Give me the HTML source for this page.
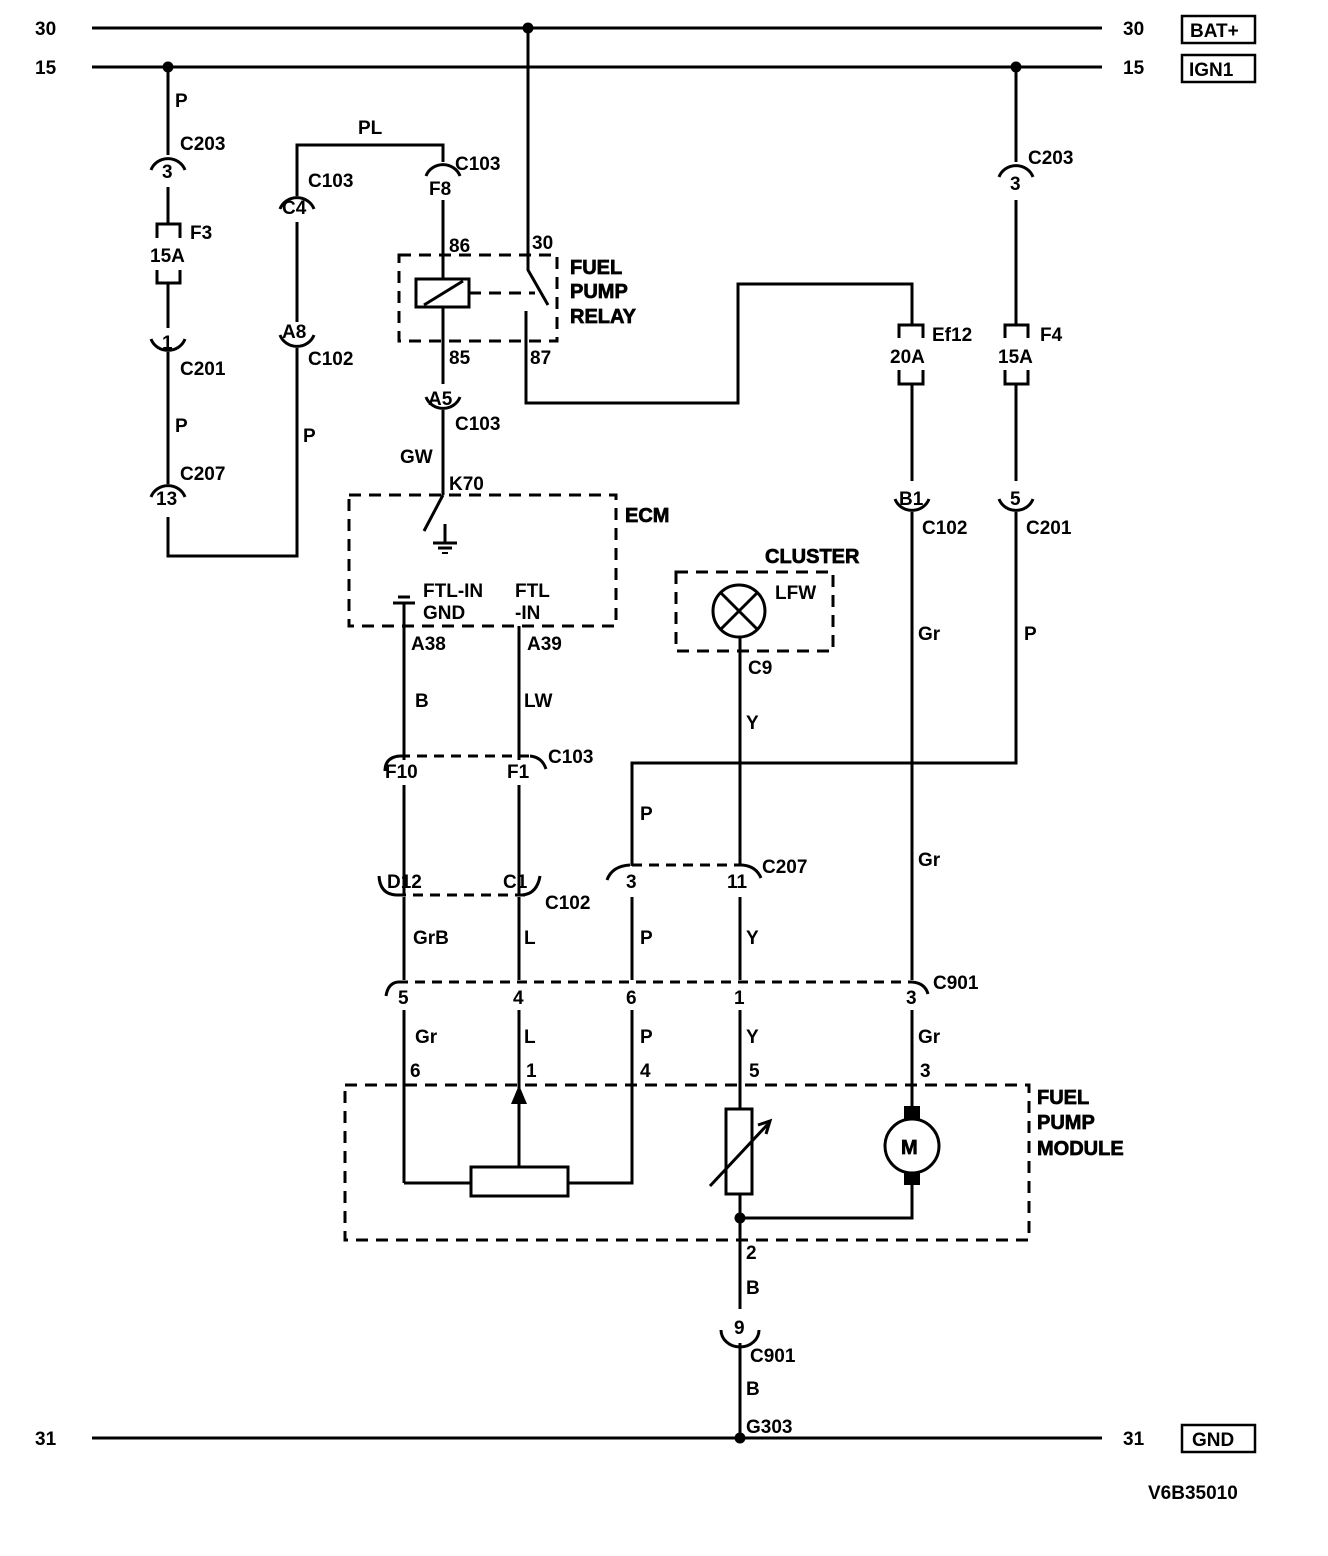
<!DOCTYPE html>
<html><head><meta charset="utf-8"><style>
html,body{margin:0;padding:0;background:#fff;}
svg{display:block;}
text{font-family:"Liberation Sans",Arial,sans-serif;font-size:19px;font-weight:bold;fill:#000;}
.h{font-size:20px;stroke:#000;stroke-width:0.7;}
</style></head><body>
<svg width="1328" height="1556" viewBox="0 0 1328 1556" xmlns="http://www.w3.org/2000/svg">
<g fill="none" stroke="#000" stroke-width="3">
<line x1="92" y1="28" x2="1102" y2="28"/>
<line x1="92" y1="67" x2="1102" y2="67"/>
<line x1="92" y1="1438" x2="1102" y2="1438"/>
<rect x="1182" y="16" width="73" height="27" stroke-width="2.5"/>
<rect x="1182" y="55" width="73" height="27" stroke-width="2.5"/>
<rect x="1182" y="1425" width="73" height="27" stroke-width="2.5"/>

<line x1="168" y1="67" x2="168" y2="155"/>
<path d="M151 170 A18 17 0 0 1 185 170"/>
<line x1="168" y1="187" x2="168" y2="225"/>
<path d="M157 238 V224 H180 V238 M157 270 V283 H180 V270"/>
<line x1="168" y1="283" x2="168" y2="328"/>
<path d="M151 339 A18 17 0 0 0 185 339"/>
<line x1="168" y1="352" x2="168" y2="484"/>
<path d="M151 497 A18 17 0 0 1 185 497"/>
<path d="M168 517 V556 H297 V348"/>
<path d="M280 335 A18 17 0 0 0 314 335"/>
<line x1="297" y1="322" x2="297" y2="222"/>
<path d="M280 209 A18 17 0 0 1 314 209"/>
<path d="M297 196 V145 H443 V162"/>
<path d="M426 176 A18 17 0 0 1 460 176"/>
<line x1="443" y1="200" x2="443" y2="384"/>
<rect x="399" y="255" width="158" height="86" stroke-dasharray="12,8"/>
<rect x="416" y="279" width="53" height="28" fill="#fff"/>
<line x1="424" y1="305" x2="463" y2="281"/>
<line x1="469" y1="293" x2="535" y2="293" stroke-dasharray="12,8"/>
<path d="M528 28 V270 L548 305"/>
<path d="M526 311 V403 H738 V284 H912 V325"/>
<path d="M426 397 A18 17 0 0 0 460 397"/>
<line x1="443" y1="410" x2="443" y2="495"/>
<rect x="349" y="495" width="267" height="131" stroke-dasharray="12,8"/>
<line x1="443" y1="495" x2="424" y2="531"/>
<line x1="445" y1="524" x2="445" y2="543"/>
<line x1="433" y1="543" x2="457" y2="543"/>
<line x1="438" y1="548" x2="452" y2="548"/>
<line x1="442" y1="553" x2="448" y2="553" stroke-width="2"/>
<line x1="393" y1="603" x2="415" y2="603"/>
<line x1="398" y1="597" x2="410" y2="597"/>
<line x1="404" y1="603" x2="404" y2="760"/>
<line x1="519" y1="626" x2="519" y2="760"/>
<path d="M385 771 Q385 757 400 756"/>
<path d="M530 756 Q542 757 546 769"/>
<line x1="400" y1="756" x2="530" y2="756" stroke-dasharray="10,7"/>
<line x1="404" y1="785" x2="404" y2="895"/>
<line x1="519" y1="785" x2="519" y2="895"/>
<path d="M379 876 Q380 894 396 895"/>
<path d="M522 895 Q537 894 540 876"/>
<line x1="396" y1="895" x2="525" y2="895" stroke-dasharray="10,7"/>
<line x1="404" y1="897" x2="404" y2="980"/>
<line x1="519" y1="897" x2="519" y2="980"/>
<path d="M1016 67 V162"/>
<path d="M999 177 A18 17 0 0 1 1033 177"/>
<line x1="1016" y1="200" x2="1016" y2="325"/>
<path d="M1005 338 V325 H1028 V338 M1005 370 V384 H1028 V370"/>
<line x1="1016" y1="384" x2="1016" y2="481"/>
<path d="M999 499 A18 17 0 0 0 1033 499"/>
<path d="M1016 512 V763 H632 V866"/>
<path d="M899 338 V325 H923 V338 M899 370 V384 H923 V370"/>
<line x1="912" y1="384" x2="912" y2="481"/>
<path d="M895 499 A18 17 0 0 0 929 499"/>
<line x1="912" y1="512" x2="912" y2="980"/>
<rect x="676" y="572" width="157" height="79" stroke-dasharray="12,8"/>
<circle cx="739" cy="611" r="26"/>
<line x1="721" y1="593" x2="757" y2="629"/>
<line x1="757" y1="593" x2="721" y2="629"/>
<line x1="740" y1="637" x2="740" y2="866"/>
<path d="M607 880 Q612 866 630 865"/>
<path d="M742 865 Q756 866 761 878"/>
<line x1="632" y1="865" x2="742" y2="865" stroke-dasharray="10,7"/>
<line x1="632" y1="897" x2="632" y2="980"/>
<line x1="740" y1="897" x2="740" y2="980"/>
<path d="M386 996 Q388 983 398 982"/>
<path d="M912 982 Q925 983 928 994"/>
<line x1="398" y1="982" x2="912" y2="982" stroke-dasharray="10,7"/>
<line x1="404" y1="1010" x2="404" y2="1183"/>
<line x1="404" y1="1183" x2="471" y2="1183"/>
<line x1="519" y1="1010" x2="519" y2="1167"/>
<path d="M568 1183 H632 V1010"/>
<line x1="740" y1="1010" x2="740" y2="1109"/>
<line x1="912" y1="1010" x2="912" y2="1106"/>
<rect x="345" y="1085" width="684" height="155" stroke-dasharray="12,8"/>
<rect x="471" y="1167" width="97" height="29" fill="#fff"/>
<rect x="726" y="1109" width="26" height="85"/>
<line x1="710" y1="1186" x2="768" y2="1124"/>
<path d="M758 1125 L770 1121 L766 1134"/>
<circle cx="912" cy="1146" r="27"/>
<path d="M912 1184 V1218 H740"/>
<line x1="740" y1="1194" x2="740" y2="1309"/>
<path d="M721 1330 A19 17 0 0 0 759 1330"/>
<line x1="740" y1="1343" x2="740" y2="1438"/>
</g>
<g fill="#000">
<circle cx="528" cy="28" r="5.5"/>
<circle cx="168" cy="67" r="5.5"/>
<circle cx="1016" cy="67" r="5.5"/>
<circle cx="740" cy="1438" r="5.5"/>
<circle cx="740" cy="1218" r="5.5"/>
<polygon points="519,1085 511,1104 527,1104"/>
<rect x="904" y="1106" width="16" height="14"/>
<rect x="904" y="1172" width="16" height="13"/>
</g>
<g>
<text x="35" y="35">30</text><text x="35" y="74">15</text><text x="35" y="1445">31</text>
<text x="1123" y="35">30</text><text x="1123" y="74">15</text><text x="1123" y="1445">31</text>
<text x="1190" y="37">BAT+</text><text x="1189" y="76">IGN1</text><text x="1192" y="1446">GND</text>
<text x="175" y="107">P</text>
<text x="180" y="150">C203</text>
<text x="162" y="178">3</text>
<text x="190" y="239">F3</text>
<text x="150" y="262">15A</text>
<text x="162" y="349">1</text>
<text x="180" y="375">C201</text>
<text x="175" y="432">P</text>
<text x="180" y="480">C207</text>
<text x="156" y="505">13</text>
<text x="282" y="214">C4</text>
<text x="308" y="187">C103</text>
<text x="282" y="338">A8</text>
<text x="308" y="365">C102</text>
<text x="303" y="442">P</text>
<text x="358" y="134">PL</text>
<text x="429" y="195">F8</text>
<text x="455" y="170">C103</text>
<text x="449" y="252">86</text>
<text x="532" y="249">30</text>
<text x="449" y="364">85</text>
<text x="530" y="364">87</text>
<text class="h" x="570" y="274">FUEL</text>
<text class="h" x="570" y="298">PUMP</text>
<text class="h" x="570" y="323">RELAY</text>
<text x="428" y="405">A5</text>
<text x="455" y="430">C103</text>
<text x="400" y="463">GW</text>
<text x="449" y="490">K70</text>
<text class="h" x="625" y="522">ECM</text>
<text x="423" y="597">FTL-IN</text>
<text x="423" y="619">GND</text>
<text x="515" y="597">FTL</text>
<text x="515" y="619">-IN</text>
<text x="411" y="650">A38</text>
<text x="527" y="650">A39</text>
<text x="415" y="707">B</text>
<text x="524" y="707">LW</text>
<text x="385" y="778">F10</text>
<text x="507" y="778">F1</text>
<text x="548" y="763">C103</text>
<text x="387" y="888">D12</text>
<text x="503" y="888">C1</text>
<text x="545" y="909">C102</text>
<text x="413" y="944">GrB</text>
<text x="524" y="944">L</text>
<text class="h" x="765" y="563">CLUSTER</text>
<text x="775" y="599">LFW</text>
<text x="748" y="674">C9</text>
<text x="746" y="729">Y</text>
<text x="1028" y="164">C203</text>
<text x="1010" y="190">3</text>
<text x="932" y="341">Ef12</text>
<text x="890" y="363">20A</text>
<text x="1040" y="341">F4</text>
<text x="998" y="363">15A</text>
<text x="899" y="505">B1</text>
<text x="1010" y="505">5</text>
<text x="922" y="534">C102</text>
<text x="1026" y="534">C201</text>
<text x="918" y="640">Gr</text>
<text x="1024" y="640">P</text>
<text x="640" y="820">P</text>
<text x="918" y="866">Gr</text>
<text x="626" y="888">3</text>
<text x="727" y="888">11</text>
<text x="762" y="873">C207</text>
<text x="640" y="944">P</text>
<text x="746" y="944">Y</text>
<text x="398" y="1004">5</text>
<text x="513" y="1004">4</text>
<text x="626" y="1004">6</text>
<text x="734" y="1004">1</text>
<text x="906" y="1004">3</text>
<text x="933" y="989">C901</text>
<text x="415" y="1043">Gr</text>
<text x="524" y="1043">L</text>
<text x="640" y="1043">P</text>
<text x="746" y="1043">Y</text>
<text x="918" y="1043">Gr</text>
<text x="410" y="1077">6</text>
<text x="526" y="1077">1</text>
<text x="640" y="1077">4</text>
<text x="749" y="1077">5</text>
<text x="920" y="1077">3</text>
<text class="h" x="1037" y="1104">FUEL</text>
<text class="h" x="1037" y="1129">PUMP</text>
<text class="h" x="1037" y="1155">MODULE</text>
<text x="901" y="1154" class="h">M</text>
<text x="746" y="1259">2</text>
<text x="746" y="1294">B</text>
<text x="734" y="1334">9</text>
<text x="750" y="1362">C901</text>
<text x="746" y="1395">B</text>
<text x="746" y="1433">G303</text>
<text x="1148" y="1499">V6B35010</text>
</g>
</svg>
</body></html>
